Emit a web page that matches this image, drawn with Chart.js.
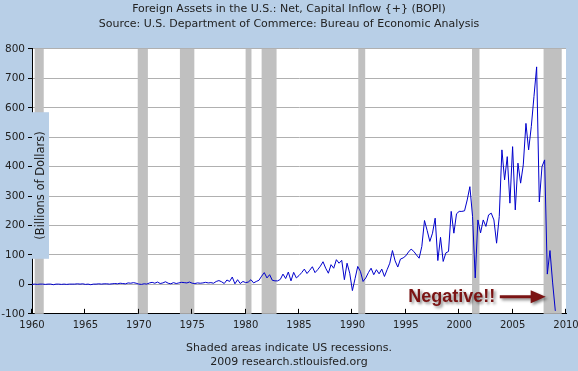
<!DOCTYPE html>
<html>
<head>
<meta charset="utf-8">
<script src="https://cdn.jsdelivr.net/npm/chart.js@4/dist/chart.umd.min.js"></script>
<style>
  html, body { margin:0; padding:0; background:#B8CFE7; }
  canvas { display:block; }
</style>
</head>
<body>
<canvas id="chart" width="578" height="371"></canvas>
<script>
/* global Chart */

// ---------- DATA ----------
const startYear = 1960;           // first quarter of the series (1960 Q1)
// net capital inflow, billions of dollars, one value per quarter
const inflow = [
  /*1960*/   0,   1,   0,   1,
  /*1961*/   1,   0,   1,   1,
  /*1962*/  -1,   1,   1,   0,
  /*1963*/   1,   0,   1,   1,
  /*1964*/   1,   2,   1,   2,
  /*1965*/   0,   1,  -1,   1,
  /*1966*/   1,   2,   1,   2,
  /*1967*/   2,   1,   2,   3,
  /*1968*/   2,   4,   3,   2,
  /*1969*/   5,   4,   6,   4,
  /*1970*/   1,   0,   2,   1,
  /*1971*/   5,   7,   4,   8,
  /*1972*/   3,   5,   9,   4,
  /*1973*/   2,   6,   3,   5,
  /*1974*/   7,   6,   5,   8,
  /*1975*/   4,   3,   5,   4,
  /*1976*/   5,   7,   5,   6,
  /*1977*/   4,  10,  13,   9,
  /*1978*/   3,  15,  10,  25,
  /*1979*/   2,  16,   3,  10,
  /*1980*/   6,   8,  16,   5,
  /*1981*/  10,  14,  28,  40,
  /*1982*/  22,  33,  14,  12,
  /*1983*/  12,  17,  35,  20,
  /*1984*/  42,  12,  41,  22,
  /*1985*/  30,  40,  52,  37,
  /*1986*/  48,  60,  40,  50,
  /*1987*/  62,  77,  55,  38,
  /*1988*/  67,  55,  84,  72,
  /*1989*/  82,  16,  72,  38,
  /*1990*/ -21,  20,  61,  44,
  /*1991*/  10,  22,  40,  55,
  /*1992*/  33,  50,  36,  52,
  /*1993*/  27,  50,  72, 115,
  /*1994*/  80,  59,  86,  90,
  /*1995*/  97, 110, 120, 112,
  /*1996*/ 100,  89, 129, 217,
  /*1997*/ 183, 146, 174, 225,
  /*1998*/  81, 160,  78, 107,
  /*1999*/ 112, 248, 174, 240,
  /*2000*/ 248, 248, 250, 287,
  /*2001*/ 332, 231,  22, 219,
  /*2002*/ 175, 219, 197, 236,
  /*2003*/ 242, 219, 140, 231,
  /*2004*/ 457, 355, 434, 276,
  /*2005*/ 468, 253, 412, 344,
  /*2006*/ 406, 547, 457, 536,
  /*2007*/ 638, 739, 280, 400,
  /*2008*/ 423,  35, 115,   5,
  /*2009*/ -90
];

// US recessions (decimal years)
const recStart = [1960.25, 1969.9, 1973.85, 1980.0, 1981.5, 1990.55, 2001.2, 2007.9];
const recEnd   = [1961.1,  1970.85, 1975.2, 1980.55, 1982.9, 1991.2, 2001.9, 2009.6];

const titleLines  = ['Foreign Assets in the U.S.: Net, Capital Inflow {+} (BOPI)',
                     'Source: U.S. Department of Commerce: Bureau of Economic Analysis'];
const footerLines = ['Shaded areas indicate US recessions.', '2009 research.stlouisfed.org'];
const yTitle      = '(Billions of Dollars)';
const noteText    = 'Negative!!';
const noteAt      = { x: 1999.3, y: -42 };   // centre of the note, data units
const arrowFrom   = 2003.8, arrowTo = 2008.1;

// ---------- STYLE ----------
const BG    = '#B8CFE7';
const FONT  = 'DejaVu Sans';
const INK   = '#222';
const NOTE  = '#7B1414';

const points = inflow.map((v, i) => ({ x: startYear + i / 4, y: v }));

/* ---------- plugins ---------- */
const backdrop = {
  id: 'backdrop',
  beforeDraw (c) {
    const { ctx, chartArea: a } = c;
    ctx.save();
    ctx.fillStyle = BG;
    ctx.fillRect(0, 0, c.width, c.height);
    ctx.fillStyle = '#fff';
    ctx.fillRect(a.left, a.top, a.right - a.left, a.bottom - a.top);
    ctx.restore();
  }
};

const recessions = {
  id: 'recessions',
  beforeDatasetsDraw (c) {
    const { ctx, chartArea: a, scales: { x } } = c;
    ctx.save();
    ctx.fillStyle = '#C0C0C0';
    recStart.forEach((s, i) => {
      const x0 = Math.max(a.left, x.getPixelForValue(s));
      const x1 = Math.min(a.right, x.getPixelForValue(recEnd[i]));
      ctx.fillRect(x0, a.top, x1 - x0, a.bottom - a.top);
    });
    ctx.restore();
  }
};

const extras = {
  id: 'extras',
  afterDatasetsDraw (c) {
    const { ctx, chartArea: a, scales: { x, y } } = c;
    ctx.save();

    // inward tick marks on the x axis
    ctx.strokeStyle = '#000';
    ctx.lineWidth = 1;
    x.ticks.forEach(t => {
      const px = Math.round(x.getPixelForValue(t.value)) - 0.5;
      ctx.beginPath();
      ctx.moveTo(px, a.bottom);
      ctx.lineTo(px, a.bottom - 5);
      ctx.stroke();
    });

    // y axis title on its own box
    const top = y.getPixelForValue(585), bot = y.getPixelForValue(87);
    ctx.fillStyle = BG;
    ctx.fillRect(a.left, top, 17, bot - top);
    ctx.translate(a.left + 9, (top + bot) / 2);
    ctx.rotate(-Math.PI / 2);
    ctx.fillStyle = INK;
    ctx.font = `11.5px "${FONT}"`;
    ctx.textAlign = 'center';
    ctx.textBaseline = 'middle';
    ctx.fillText(yTitle, 0, 0);
    ctx.setTransform(1, 0, 0, 1, 0, 0);

    // "Negative!!" note with arrow
    const nx = x.getPixelForValue(noteAt.x), ny = y.getPixelForValue(noteAt.y);
    ctx.shadowColor = 'rgba(0,0,0,0.45)';
    ctx.shadowBlur = 3;
    ctx.shadowOffsetX = 2;
    ctx.shadowOffsetY = 2;
    ctx.fillStyle = NOTE;
    ctx.font = `bold 18px "Liberation Sans"`;
    ctx.textAlign = 'center';
    ctx.textBaseline = 'middle';
    ctx.fillText(noteText, nx, ny);

    const ax0 = x.getPixelForValue(arrowFrom), ax1 = x.getPixelForValue(arrowTo);
    ctx.strokeStyle = NOTE;
    ctx.lineWidth = 3;
    ctx.beginPath();
    ctx.moveTo(ax0, ny);
    ctx.lineTo(ax1 - 10, ny);
    ctx.stroke();
    ctx.beginPath();
    ctx.moveTo(ax1, ny);
    ctx.lineTo(ax1 - 15, ny - 6.5);
    ctx.lineTo(ax1 - 15, ny + 6.5);
    ctx.closePath();
    ctx.fill();
    ctx.restore();
  }
};

// ---------- CHART ----------
new Chart(document.getElementById('chart'), {
  type: 'line',
  data: {
    datasets: [{
      data: points,
      borderColor: '#0000CC',
      borderWidth: 1,
      pointRadius: 0,
      tension: 0
    }]
  },
  options: {
    responsive: false,
    animation: false,
    layout: { padding: 0 },
    plugins: {
      legend: { display: false },
      tooltip: { enabled: false },
      title: {
        display: true,
        text: titleLines,
        color: INK,
        font: { family: FONT, size: 11, weight: 'normal', lineHeight: 1.36 },
        padding: { top: 2, bottom: 17 }
      },
      subtitle: {
        display: true,
        position: 'bottom',
        text: footerLines,
        color: INK,
        font: { family: FONT, size: 11, weight: 'normal', lineHeight: 1.28 },
        padding: { top: 7, bottom: 2 }
      }
    },
    scales: {
      x: {
        type: 'linear',
        min: 1960, max: 2010,
        ticks: {
          stepSize: 5,
          callback: v => v,
          color: INK,
          font: { family: FONT, size: 10 },
          maxRotation: 0,
          padding: 6
        },
        grid: { display: false, drawTicks: false },
        border: { display: true, color: '#000', width: 1 },
        afterFit (s) { s.height = 20; s.paddingLeft = 0; s.paddingRight = 12; }
      },
      y: {
        min: -100, max: 800,
        ticks: {
          stepSize: 100,
          color: INK,
          font: { family: FONT, size: 10.5 },
          padding: 3
        },
        grid: { color: '#B0B0B0', tickColor: '#000', tickLength: 4 },
        border: { display: true, color: '#000', width: 1 },
        afterFit (s) { s.width = 32; s.paddingTop = 0; s.paddingBottom = 0; }
      }
    }
  },
  plugins: [backdrop, recessions, extras]
});
</script>
</body>
</html>
